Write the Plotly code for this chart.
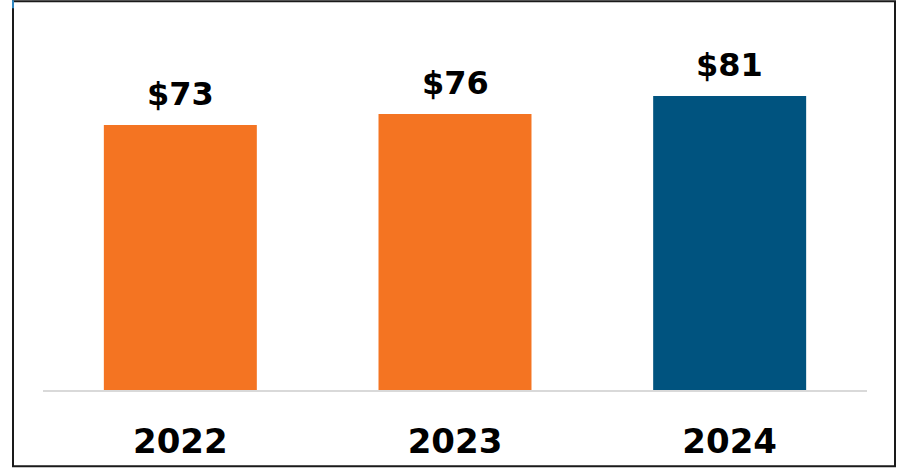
import plotly.graph_objects as go

years = ["2022", "2023", "2024"]
values = [73, 76, 81]
labels = ["$73", "$76", "$81"]
colors = ["#F47422", "#F47422", "#00537F"]

fig = go.Figure()
fig.add_trace(go.Bar(x=years, y=values, marker=dict(color=colors, line=dict(width=0)),
                     hoverinfo="skip"))

for i, (v, t) in enumerate(zip(values, labels)):
    fig.add_annotation(x=i, y=v, text="<b>%s</b>" % t, showarrow=False,
                       yanchor="bottom", yshift=10,
                       font=dict(family="DejaVu Sans", size=32, color="#000000"))

L, R, T, B = 43, 31, 27, 79
W, H = 898, 473
pw, ph = W - L - R, H - T - B

def px(x):
    return (x - L) / pw

def py(y):
    return (H - B - y) / ph

fig.add_shape(type="rect", xref="paper", yref="paper",
              x0=px(13), x1=px(895), y0=py(471), y1=py(1),
              line=dict(color="#1a1a1a", width=2), layer="above")
fig.add_shape(type="line", xref="paper", yref="paper",
              x0=px(13), x1=px(13), y0=py(8), y1=py(0),
              line=dict(color="#2E86C1", width=2), layer="above")

fig.update_layout(
    width=W, height=H,
    margin=dict(l=L, r=R, t=T, b=B, pad=0),
    paper_bgcolor="white", plot_bgcolor="white",
    bargap=0.443, showlegend=False,
    xaxis=dict(type="category", range=[-0.5, len(years) - 0.5],
               showline=True, linecolor="#D9D9D9", linewidth=2, showgrid=False,
               ticks="", tickfont=dict(family="DejaVu Sans", size=34, color="#000000"),
               tickprefix="<b>", ticksuffix="</b>", ticklabelstandoff=20, fixedrange=True),
    yaxis=dict(range=[0, 100], visible=False, showgrid=False, zeroline=False, fixedrange=True),
)

fig.write_html("out.html")
